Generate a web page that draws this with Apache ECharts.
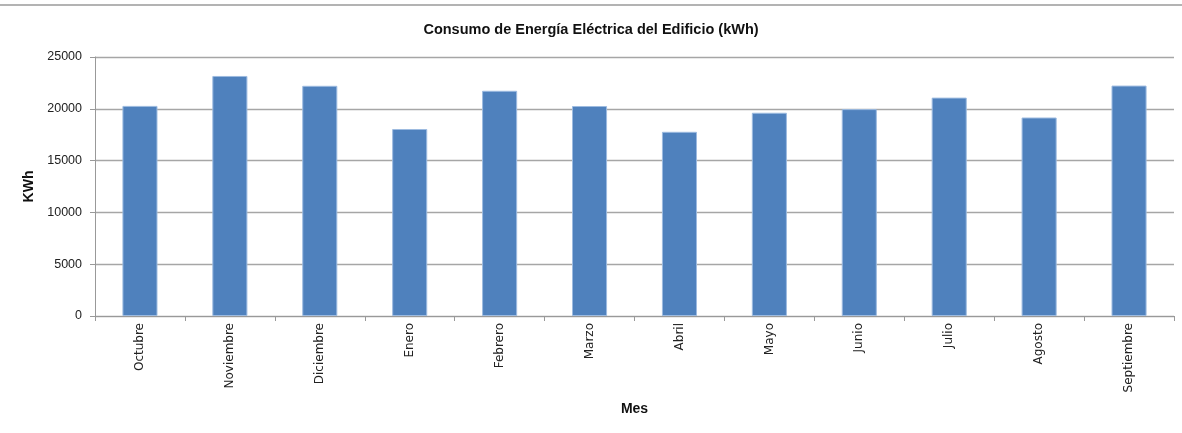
<!DOCTYPE html>
<html>
<head>
<meta charset="utf-8">
<script src="https://cdn.jsdelivr.net/npm/echarts@6/dist/echarts.min.js"></script>
<style>
  html, body { margin: 0; padding: 0; background: #fff; }
  #chart { width: 1182px; height: 433px; }
</style>
</head>
<body>
<div id="chart"></div>
<script>
// datos
const meses = ['Octubre', 'Noviembre', 'Diciembre', 'Enero', 'Febrero', 'Marzo',
    'Abril', 'Mayo', 'Junio', 'Julio', 'Agosto', 'Septiembre'];
const consumo = [20280, 23170, 22220, 18050, 21740, 20270, 17780, 19620, 19970, 21080, 19160, 22240];
const yTicks = [0, 5000, 10000, 15000, 20000, 25000];

const font = '"Liberation Sans", "DejaVu Sans", sans-serif';

var chart = echarts.init(document.getElementById('chart'), null, { renderer: 'canvas' });

var option = {
    animation: false,
    textStyle: { fontFamily: font },
    title: {
        text: 'Consumo de Energía Eléctrica del Edificio (kWh)',
        left: 'center',
        top: 17,
        textStyle: { fontSize: 14.5, fontWeight: 'bold', color: '#111', fontFamily: font }
    },
    graphic: [{
        type: 'line',
        shape: { x1: 0, y1: 5, x2: 1182, y2: 5 },
        style: { stroke: '#9a9a9a', lineWidth: 1.5 }
    }],
    grid: {
        left: 95,
        right: 8,
        top: 57,
        bottom: 117
    },
    xAxis: {
        type: 'category',
        data: meses,
        name: 'Mes',
        nameLocation: 'center',
        nameGap: 86,
        nameTextStyle: { fontSize: 14, fontWeight: 'bold', color: '#111', fontFamily: font },
        axisLine: { lineStyle: { color: '#999', width: 1 } },
        axisTick: { show: true, length: 5, lineStyle: { color: '#999' } },
        axisLabel: { rotate: 90, fontSize: 12, color: '#222', margin: 7, fontFamily: '"DejaVu Sans", sans-serif' }
    },
    yAxis: {
        type: 'value',
        min: 0,
        max: 25000,
        interval: 5000,
        name: 'KWh',
        nameLocation: 'center',
        nameGap: 52,
        nameTextStyle: { fontSize: 14, fontWeight: 'bold', color: '#111', fontFamily: font },
        axisLine: { show: true, lineStyle: { color: '#999' } },
        axisTick: { show: true, length: 5, lineStyle: { color: '#999' } },
        axisLabel: {
            fontSize: 12.5, color: '#222', margin: 13, fontFamily: font,
            formatter: v => yTicks.includes(v) ? String(v) : ''
        },
        splitLine: { lineStyle: { color: '#a6a6a6', width: 1.3 } }
    },
    series: [{
        type: 'bar',
        data: consumo,
        barWidth: '39%',
        itemStyle: {
            color: '#4f81bd',
            borderColor: '#9dbbe0',
            borderWidth: 1
        }
    }]
};

chart.setOption(option);
</script>
</body>
</html>
